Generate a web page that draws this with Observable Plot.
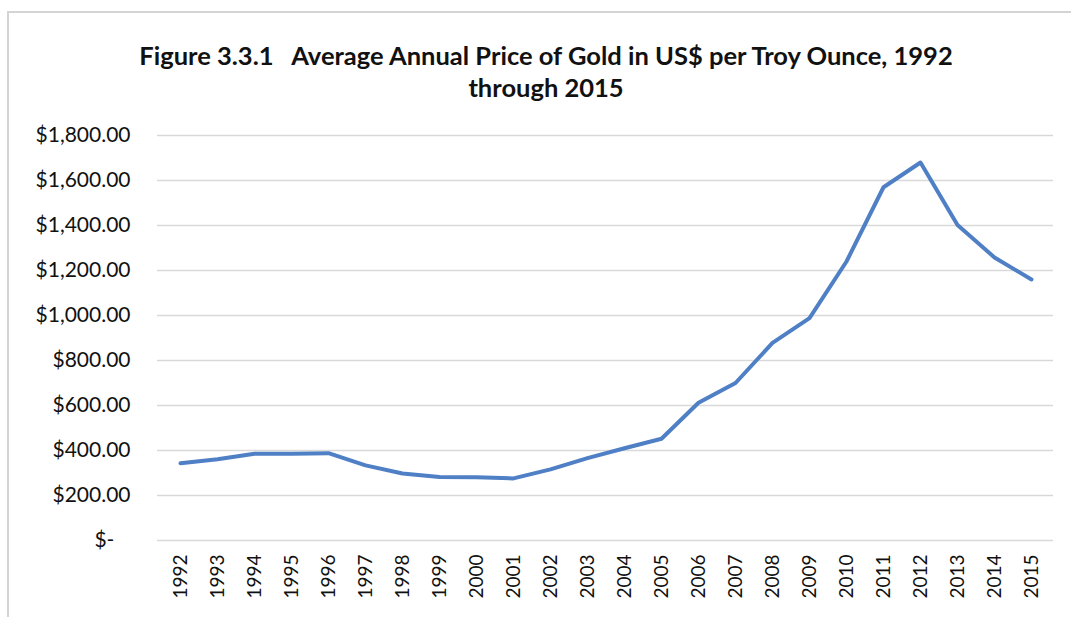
<!DOCTYPE html>
<html>
<head>
<meta charset="utf-8">
<script src="https://cdn.jsdelivr.net/npm/d3@7"></script>
<script src="https://cdn.jsdelivr.net/npm/@observablehq/plot@0.6"></script>
<style>
  html, body { margin: 0; padding: 0; background: #fff; }
  body { width: 1071px; height: 617px; position: relative; overflow: hidden; font-family: Lato, "Open Sans", sans-serif; }
  #frame { position: absolute; left: 7px; top: 11px; width: 1080px; height: 620px; border-top: 2px solid #d4d4d4; border-left: 2px solid #d4d4d4; }
  #title { position: absolute; top: 39px; left: 21px; width: 1050px; text-align: center; font-weight: bold; font-size: 25.5px; line-height: 32px; color: #111; white-space: pre; }
  #chart { position: absolute; top: 110px; left: 0; }
</style>
</head>
<body>
<div id="frame"></div>
<div id="title">Figure 3.3.1   Average Annual Price of Gold in US$ per Troy Ounce, 1992
through 2015</div>
<div id="chart"></div>
<script>
const years = ["1992","1993","1994","1995","1996","1997","1998","1999","2000","2001","2002","2003","2004","2005","2006","2007","2008","2009","2010","2011","2012","2013","2014","2015"];
const prices = [343, 361, 386, 386, 388, 334, 298, 282, 281, 276, 316, 366, 410, 452, 612, 700, 878, 988, 1240, 1570, 1680, 1402, 1258, 1160];
const yTicks = [0, 200, 400, 600, 800, 1000, 1200, 1400, 1600, 1800];

const data = years.map((y, i) => ({year: y, price: prices[i]}));
const fmt = d3.format(",.2f");

const chart = Plot.plot({
  width: 1071,
  height: 507,
  marginLeft: 157,
  marginRight: 18,
  marginTop: 25,
  marginBottom: 77,
  style: {fontFamily: "Lato, 'Open Sans', sans-serif", color: "#111", background: "transparent"},
  x: {type: "point", domain: years, padding: 0.5, label: null},
  y: {domain: [0, 1800], label: null},
  marks: [
    Plot.ruleY(yTicks, {stroke: "#d9d9d9", strokeWidth: 1.5}),
    Plot.axisY({ticks: yTicks, tickSize: 0, tickPadding: 27, fontSize: 21,
      tickFormat: d => d === 0 ? "$-\u00a0\u00a0\u00a0" : "$" + fmt(d), label: null}),
    Plot.axisX({tickSize: 0, tickPadding: 14, tickRotate: -90, fontSize: 19, label: null}),
    Plot.line(data, {x: "year", y: "price", stroke: "#4f7fc4", strokeWidth: 4, strokeLinejoin: "round", strokeLinecap: "round"})
  ]
});
document.getElementById("chart").appendChild(chart);
</script>
</body>
</html>
